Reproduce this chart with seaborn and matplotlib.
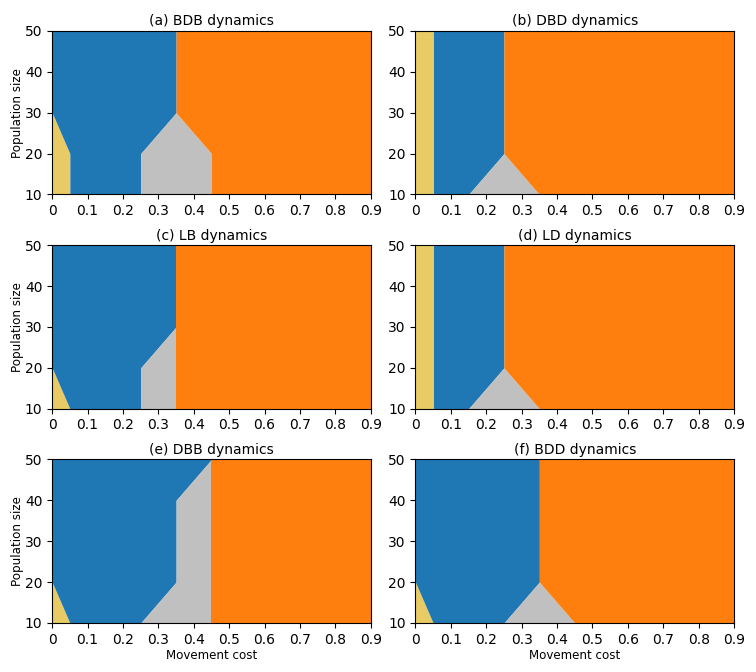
import numpy as np
import matplotlib
matplotlib.use("Agg")
import matplotlib.pyplot as plt
import seaborn as sns

sns.set_style("ticks")
plt.rcParams['font.family'] = ['DejaVu Sans']
plt.rcParams.update({'text.color': 'black', 'axes.labelcolor': 'black',
                     'xtick.color': 'black', 'ytick.color': 'black'})

# population sizes where the regime boundaries were read
pop_sizes = [10, 20, 30, 40, 50]

TITLES = ["(a) BDB dynamics", "(b) DBD dynamics", "(c) LB dynamics",
          "(d) LD dynamics", "(e) DBB dynamics", "(f) BDD dynamics"]

# movement cost at which each regime ends, per population size
yellow_end = [
    [0.05, 0.05, 0.0, 0.0, 0.0],
    [0.05, 0.05, 0.05, 0.05, 0.05],
    [0.05, 0.0, 0.0, 0.0, 0.0],
    [0.05, 0.05, 0.05, 0.05, 0.05],
    [0.05, 0.0, 0.0, 0.0, 0.0],
    [0.05, 0.0, 0.0, 0.0, 0.0],
]
blue_end = [
    [0.25, 0.25, 0.35, 0.35, 0.35],
    [0.15, 0.25, 0.25, 0.25, 0.25],
    [0.25, 0.25, 0.35, 0.35, 0.35],
    [0.15, 0.25, 0.25, 0.25, 0.25],
    [0.25, 0.35, 0.35, 0.35, 0.45],
    [0.25, 0.35, 0.35, 0.35, 0.35],
]
gray_end = [
    [0.45, 0.45, 0.35, 0.35, 0.35],
    [0.35, 0.25, 0.25, 0.25, 0.25],
    [0.35, 0.35, 0.35, 0.35, 0.35],
    [0.35, 0.25, 0.25, 0.25, 0.25],
    [0.45, 0.45, 0.45, 0.45, 0.45],
    [0.45, 0.35, 0.35, 0.35, 0.35],
]

COLORS = ['#e8cb65', '#1f77b4', '#c0c0c0', '#ff7f0e']
XMAX = 0.9

fig, axes = plt.subplots(3, 2, figsize=(7.56, 6.72), dpi=100)
fig.subplots_adjust(left=0.069, right=0.971, top=0.954, bottom=0.073,
                    wspace=0.14, hspace=0.31)

for i, ax in enumerate(axes.flat):
    y = np.array(pop_sizes)
    bounds = [np.zeros(len(y)), np.array(yellow_end[i]), np.array(blue_end[i]),
              np.array(gray_end[i]), np.full(len(y), XMAX)]
    for k, c in enumerate(COLORS):
        ax.fill_betweenx(y, bounds[k], bounds[k + 1], color=c, linewidth=0)
    ax.set_xlim(0, XMAX)
    ax.set_ylim(10, 50)
    ax.set_xticks(np.arange(0, 1.0, 0.1))
    ax.set_xticklabels(["0"] + [f"{v:.1f}" for v in np.arange(0.1, 1.0, 0.1)])
    ax.set_yticks(pop_sizes)
    ax.tick_params(labelsize=10, length=3.5, width=0.8, color='black')
    for s in ax.spines.values():
        s.set_color('black')
        s.set_linewidth(0.8)
    ax.set_title(TITLES[i], fontsize=10, pad=4)
    if i % 2 == 0:
        ax.set_ylabel("Population size", fontsize=8.6, labelpad=0.5)
    if i >= 4:
        ax.set_xlabel("Movement cost", fontsize=8.6, labelpad=1.5)

fig.savefig("out.png", dpi=100)
